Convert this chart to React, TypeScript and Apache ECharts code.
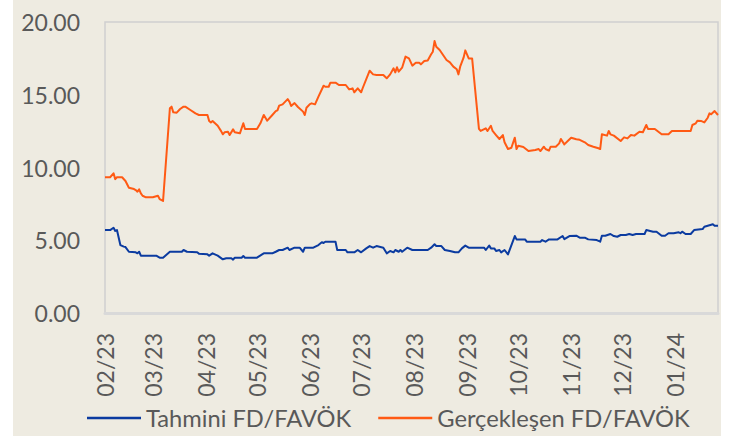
import React, { useEffect, useRef } from "react";
import * as echarts from "echarts";

const startDate = "2023-02-01";
const endDate = "2024-01-26";
const seriesNames = ["Tahmini FD/FAVÖK", "Gerçekleşen FD/FAVÖK"];
const seriesColors = ["#0B3BA0", "#FF5A14"];
const yMin = 0;
const yMax = 20;
const yStep = 5;

const tahminDates = [
  "2023-02-01", "2023-02-04", "2023-02-06", "2023-02-07", "2023-02-08", "2023-02-10", "2023-02-12", "2023-02-13",
  "2023-02-15", "2023-02-19", "2023-02-20", "2023-02-21", "2023-02-22", "2023-03-03", "2023-03-05", "2023-03-07",
  "2023-03-11", "2023-03-18", "2023-03-19", "2023-03-21", "2023-03-27", "2023-03-28", "2023-04-02", "2023-04-03",
  "2023-04-05", "2023-04-08", "2023-04-11", "2023-04-13", "2023-04-16", "2023-04-17", "2023-04-18", "2023-04-22",
  "2023-04-23", "2023-04-24", "2023-05-01", "2023-05-04", "2023-05-05", "2023-05-10", "2023-05-12", "2023-05-14",
  "2023-05-16", "2023-05-19", "2023-05-20", "2023-05-23", "2023-05-26", "2023-05-28", "2023-05-29", "2023-06-03",
  "2023-06-06", "2023-06-08", "2023-06-09", "2023-06-10", "2023-06-16", "2023-06-17", "2023-06-22", "2023-06-23",
  "2023-06-27", "2023-06-29", "2023-07-01", "2023-07-04", "2023-07-06", "2023-07-08", "2023-07-10", "2023-07-14",
  "2023-07-16", "2023-07-18", "2023-07-20", "2023-07-21", "2023-07-23", "2023-07-24", "2023-07-25", "2023-07-28",
  "2023-07-31", "2023-08-09", "2023-08-11", "2023-08-13", "2023-08-14", "2023-08-17", "2023-08-19", "2023-08-22",
  "2023-08-25", "2023-08-27", "2023-08-29", "2023-08-31", "2023-09-02", "2023-09-11", "2023-09-12", "2023-09-14",
  "2023-09-15", "2023-09-17", "2023-09-18", "2023-09-20", "2023-09-21", "2023-09-23", "2023-09-25", "2023-09-29",
  "2023-09-30", "2023-10-05", "2023-10-06", "2023-10-14", "2023-10-15", "2023-10-17", "2023-10-19", "2023-10-24",
  "2023-10-27", "2023-10-28", "2023-10-31", "2023-11-04", "2023-11-06", "2023-11-09", "2023-11-11", "2023-11-16",
  "2023-11-18", "2023-11-19", "2023-11-21", "2023-11-24", "2023-11-26", "2023-11-28", "2023-11-30", "2023-12-03",
  "2023-12-05", "2023-12-07", "2023-12-09", "2023-12-14", "2023-12-15", "2023-12-19", "2023-12-21", "2023-12-24",
  "2023-12-26", "2023-12-28", "2023-12-31", "2024-01-03", "2024-01-04", "2024-01-05", "2024-01-07", "2024-01-10",
  "2024-01-12", "2024-01-17", "2024-01-18", "2024-01-20", "2024-01-23", "2024-01-24", "2024-01-26",
];
const tahminValues = [
  5.70, 5.70, 5.86, 5.64, 5.70, 4.67, 4.56, 4.53,
  4.21, 4.17, 4.10, 4.21, 3.94, 3.94, 3.80, 3.80,
  4.21, 4.21, 4.33, 4.21, 4.17, 4.08, 4.03, 3.94,
  4.10, 3.94, 3.69, 3.76, 3.76, 3.67, 3.80, 3.80,
  3.92, 3.80, 3.80, 4.03, 4.10, 4.10, 4.21, 4.33,
  4.33, 4.49, 4.33, 4.49, 4.49, 4.21, 4.49, 4.49,
  4.67, 4.86, 4.81, 4.90, 4.90, 4.33, 4.33, 4.17,
  4.17, 4.33, 4.17, 4.44, 4.60, 4.49, 4.60, 4.49,
  4.10, 4.26, 4.17, 4.33, 4.21, 4.33, 4.21, 4.49,
  4.33, 4.33, 4.49, 4.72, 4.60, 4.60, 4.33, 4.26,
  4.17, 4.17, 4.44, 4.63, 4.49, 4.49, 4.33, 4.63,
  4.44, 4.44, 4.26, 4.33, 4.17, 4.33, 4.03, 5.29,
  5.06, 5.06, 4.90, 4.90, 5.01, 4.90, 5.06, 5.06,
  5.29, 5.08, 5.29, 5.31, 5.18, 5.18, 5.06, 5.01,
  4.90, 5.31, 5.31, 5.43, 5.29, 5.24, 5.36, 5.36,
  5.43, 5.36, 5.43, 5.43, 5.70, 5.59, 5.59, 5.31,
  5.31, 5.48, 5.48, 5.55, 5.48, 5.59, 5.43, 5.43,
  5.70, 5.77, 5.93, 6.00, 6.10, 6.00, 6.00,
];

const gercekDates = [
  "2023-02-01", "2023-02-04", "2023-02-06", "2023-02-07", "2023-02-08", "2023-02-11", "2023-02-13", "2023-02-15",
  "2023-02-18", "2023-02-19", "2023-02-20", "2023-02-21", "2023-02-22", "2023-02-23", "2023-02-25", "2023-03-01",
  "2023-03-04", "2023-03-05", "2023-03-07", "2023-03-11", "2023-03-12", "2023-03-13", "2023-03-15", "2023-03-17",
  "2023-03-19", "2023-03-20", "2023-03-23", "2023-03-26", "2023-03-28", "2023-04-02", "2023-04-03", "2023-04-04",
  "2023-04-05", "2023-04-08", "2023-04-10", "2023-04-11", "2023-04-12", "2023-04-14", "2023-04-15", "2023-04-17",
  "2023-04-18", "2023-04-21", "2023-04-23", "2023-04-24", "2023-05-01", "2023-05-03", "2023-05-05", "2023-05-07",
  "2023-05-10", "2023-05-12", "2023-05-13", "2023-05-14", "2023-05-16", "2023-05-19", "2023-05-20", "2023-05-21",
  "2023-05-23", "2023-05-25", "2023-05-28", "2023-05-29", "2023-05-30", "2023-06-01", "2023-06-02", "2023-06-04",
  "2023-06-06", "2023-06-09", "2023-06-10", "2023-06-12", "2023-06-13", "2023-06-16", "2023-06-18", "2023-06-22",
  "2023-06-24", "2023-06-26", "2023-06-27", "2023-06-29", "2023-07-01", "2023-07-02", "2023-07-06", "2023-07-08",
  "2023-07-10", "2023-07-14", "2023-07-16", "2023-07-18", "2023-07-20", "2023-07-21", "2023-07-22", "2023-07-23",
  "2023-07-25", "2023-07-27", "2023-07-29", "2023-07-31", "2023-08-02", "2023-08-04", "2023-08-05", "2023-08-07",
  "2023-08-09", "2023-08-11", "2023-08-12", "2023-08-13", "2023-08-14", "2023-08-16", "2023-08-18", "2023-08-20",
  "2023-08-22", "2023-08-24", "2023-08-26", "2023-08-27", "2023-08-28", "2023-08-30", "2023-08-31", "2023-09-02",
  "2023-09-04", "2023-09-08", "2023-09-09", "2023-09-12", "2023-09-13", "2023-09-15", "2023-09-16", "2023-09-18",
  "2023-09-20", "2023-09-22", "2023-09-23", "2023-09-25", "2023-09-27", "2023-09-29", "2023-09-30", "2023-10-01",
  "2023-10-04", "2023-10-07", "2023-10-11", "2023-10-13", "2023-10-14", "2023-10-16", "2023-10-17", "2023-10-19",
  "2023-10-20", "2023-10-23", "2023-10-25", "2023-10-26", "2023-10-28", "2023-10-30", "2023-11-01", "2023-11-04",
  "2023-11-06", "2023-11-09", "2023-11-11", "2023-11-14", "2023-11-17", "2023-11-18", "2023-11-19", "2023-11-22",
  "2023-11-23", "2023-11-24", "2023-11-26", "2023-11-30", "2023-12-02", "2023-12-04", "2023-12-06", "2023-12-08",
  "2023-12-11", "2023-12-13", "2023-12-15", "2023-12-16", "2023-12-20", "2023-12-24", "2023-12-28", "2023-12-30",
  "2024-01-10", "2024-01-11", "2024-01-13", "2024-01-14", "2024-01-16", "2024-01-18", "2024-01-20", "2024-01-21",
  "2024-01-22", "2024-01-24", "2024-01-26",
];
const gercekValues = [
  9.33, 9.33, 9.60, 9.20, 9.33, 9.33, 9.07, 8.61,
  8.52, 8.45, 8.34, 8.50, 8.22, 8.06, 7.95, 7.95,
  8.06, 7.83, 7.70, 14.07, 14.18, 13.79, 13.77, 14.02,
  14.18, 14.18, 13.95, 13.72, 13.61, 13.61, 13.20, 13.10,
  13.20, 12.87, 12.50, 12.28, 12.42, 12.46, 12.23, 12.62,
  12.42, 12.35, 13.04, 12.65, 12.65, 13.04, 13.61, 13.22,
  13.61, 13.88, 13.93, 14.25, 14.34, 14.70, 14.52, 14.23,
  14.43, 14.16, 13.84, 13.61, 14.11, 14.36, 14.41, 14.34,
  14.87, 15.62, 15.55, 15.55, 15.83, 15.83, 15.67, 15.67,
  15.37, 15.44, 15.17, 15.44, 15.17, 15.48, 16.65, 16.40,
  16.36, 16.36, 16.13, 16.40, 16.82, 16.54, 16.89, 16.59,
  16.86, 17.62, 17.50, 17.00, 17.20, 17.20, 17.09, 17.32,
  17.36, 17.78, 17.96, 18.69, 18.30, 18.08, 17.73, 17.39,
  17.23, 16.93, 16.75, 16.40, 16.93, 17.55, 18.05, 17.50,
  17.50, 12.65, 12.51, 12.69, 12.51, 12.87, 12.51, 12.23,
  11.96, 12.23, 11.73, 11.27, 11.36, 12.05, 11.27, 11.50,
  11.41, 11.13, 11.20, 11.27, 11.13, 11.43, 11.27, 11.16,
  11.43, 11.43, 11.66, 11.96, 11.59, 11.82, 12.05, 11.94,
  11.90, 11.73, 11.55, 11.43, 11.32, 11.27, 12.28, 12.19,
  12.51, 12.28, 12.19, 11.82, 12.07, 12.00, 12.23, 12.19,
  12.46, 12.42, 12.92, 12.65, 12.65, 12.28, 12.28, 12.51,
  12.51, 12.92, 13.04, 13.22, 13.20, 13.10, 13.42, 13.72,
  13.66, 13.88, 13.61,
];

function buildCategories(): string[] {
  const out: string[] = [];
  const d = new Date(startDate + "T00:00:00Z");
  const end = new Date(endDate + "T00:00:00Z");
  while (d.getTime() <= end.getTime()) {
    out.push(d.toISOString().slice(0, 10));
    d.setUTCDate(d.getUTCDate() + 1);
  }
  return out;
}

const FONT = "Lato";
const TEXT_COLOR = "#595959";

export default function App() {
  const ref = useRef<HTMLDivElement>(null);

  useEffect(() => {
    if (!ref.current) return;
    const chart = echarts.init(ref.current, undefined, { renderer: "svg" });
    const categories = buildCategories();
    const pairs = (dates: string[], vals: number[]) => dates.map((d, i) => [d, vals[i]]);

    chart.setOption({
      animation: false,
      backgroundColor: "transparent",
      grid: {
        left: 105,
        right: 28,
        top: 22,
        bottom: 123,
        show: true,
        borderColor: "#D0D0D0",
        borderWidth: 1.5,
        backgroundColor: "transparent",
        containLabel: false,
      },
      legend: {
        data: seriesNames,
        left: 82,
        top: 401,
        icon: "rect",
        itemWidth: 54,
        itemHeight: 2.5,
        itemGap: 27,
        textStyle: { fontFamily: FONT, fontSize: 23.7, color: TEXT_COLOR },
      },
      xAxis: {
        type: "category",
        data: categories,
        boundaryGap: false,
        axisTick: { show: false },
        axisLine: { show: true, lineStyle: { color: "#D9D9D9", width: 3 } },
        splitLine: { show: false },
        axisLabel: {
          interval: (_i: number, v: string) => v.slice(8, 10) === "01",
          rotate: 90,
          margin: 20,
          formatter: (v: string) => v.slice(5, 7) + "/" + v.slice(2, 4),
          fontFamily: FONT,
          fontSize: 23,
          color: TEXT_COLOR,
        },
      },
      yAxis: {
        type: "value",
        min: yMin,
        max: yMax,
        interval: yStep,
        axisLine: { show: false },
        axisTick: { show: false },
        splitLine: { show: false },
        axisLabel: {
          margin: 25,
          formatter: (v: number) => v.toFixed(2),
          fontFamily: FONT,
          fontSize: 23,
          color: TEXT_COLOR,
        },
      },
      series: [
        {
          name: seriesNames[0],
          type: "line",
          symbol: "none",
          color: seriesColors[0],
          lineStyle: { width: 2, color: seriesColors[0], join: "round" },
          data: pairs(tahminDates, tahminValues),
        },
        {
          name: seriesNames[1],
          type: "line",
          symbol: "none",
          color: seriesColors[1],
          lineStyle: { width: 2, color: seriesColors[1], join: "round" },
          data: pairs(gercekDates, gercekValues),
        },
      ],
    });
    return () => chart.dispose();
  }, []);

  return (
    <div
      ref={ref}
      style={{
        position: "absolute",
        left: 0,
        top: 0,
        width: 746,
        height: 436,
        background:
          "linear-gradient(to right, #FFFFFF 0px, #FFFFFF 13px, #EEEBE1 13px, #EEEBE1 721px, #FFFFFF 721px)",
      }}
    />
  );
}
